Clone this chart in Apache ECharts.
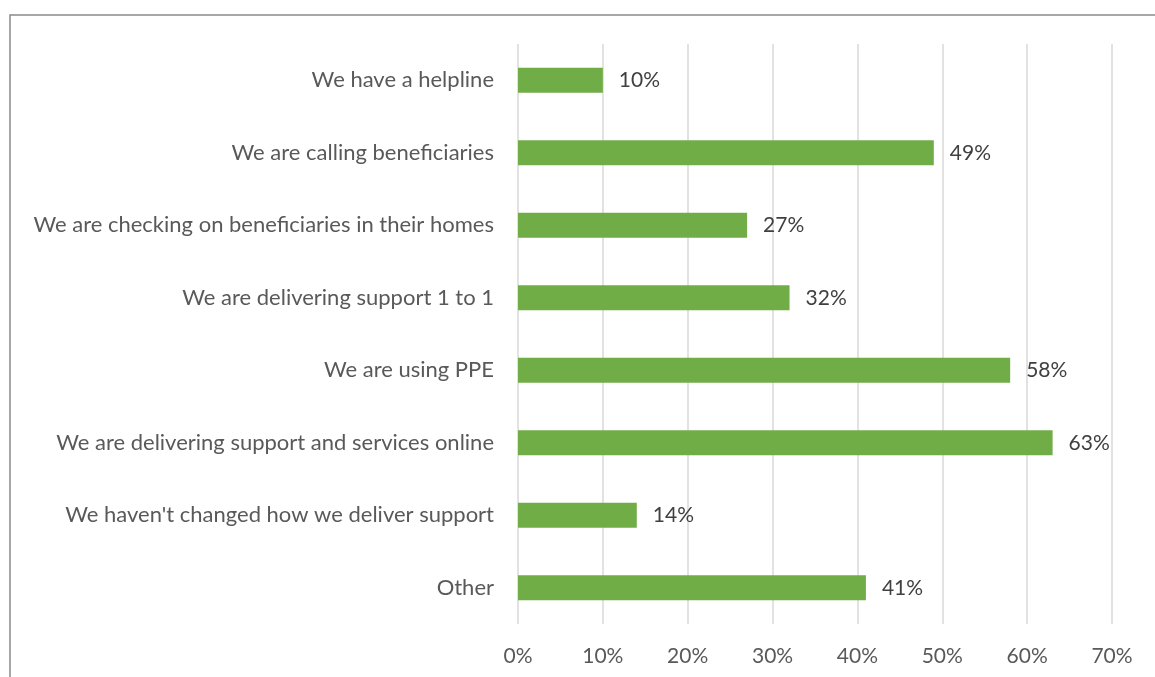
<!DOCTYPE html>
<html>
<head>
<meta charset="utf-8">
<script src="https://cdn.jsdelivr.net/npm/echarts@6/dist/echarts.min.js"></script>
<style>
  html, body { margin: 0; padding: 0; background: #fff; }
  #chart { width: 1155px; height: 677px; }
</style>
</head>
<body>
<div id="chart"></div>
<script>
// Ways of delivering support, share of respondents (%), top to bottom
const categories = [
  "We have a helpline",
  "We are calling beneficiaries",
  "We are checking on beneficiaries in their homes",
  "We are delivering support 1 to 1",
  "We are using PPE",
  "We are delivering support and services online",
  "We haven't changed how we deliver support",
  "Other"
];
const shares = [10, 49, 27, 32, 58, 63, 14, 41];
const xTicks = [0, 10, 20, 30, 40, 50, 60, 70];

const FONT = "Lato, 'Open Sans', sans-serif";
const chart = echarts.init(document.getElementById('chart'), null, { renderer: 'canvas' });

chart.setOption({
  backgroundColor: '#ffffff',
  animation: false,
  graphic: [{
    type: 'rect',
    shape: { x: 10, y: 15, width: 1200, height: 700 },
    style: { fill: 'none', stroke: '#8a8a8a', lineWidth: 1.5 },
    silent: true
  }],
  grid: { left: 518, right: 43, top: 44, bottom: 53, containLabel: false },
  xAxis: {
    type: 'value',
    min: xTicks[0],
    max: xTicks[xTicks.length - 1],
    interval: 10,
    axisLine: { show: false },
    axisTick: { show: false },
    splitLine: { show: true, lineStyle: { color: '#d9d9d9', width: 1.5 } },
    axisLabel: {
      margin: 22,
      color: '#595959',
      fontFamily: FONT,
      fontSize: 21,
      formatter: v => v + '%'
    }
  },
  yAxis: {
    type: 'category',
    data: categories,
    inverse: true,
    axisLine: { show: false },
    axisTick: { show: false },
    splitLine: { show: false },
    axisLabel: {
      margin: 24,
      color: '#595959',
      fontFamily: FONT,
      fontSize: 22
    }
  },
  series: [{
    type: 'bar',
    data: shares,
    barWidth: 25,
    itemStyle: { color: '#70ad47' },
    label: {
      show: true,
      position: 'right',
      distance: 16,
      color: '#404040',
      fontFamily: FONT,
      fontSize: 21,
      formatter: p => p.value + '%'
    }
  }]
});
</script>
</body>
</html>
